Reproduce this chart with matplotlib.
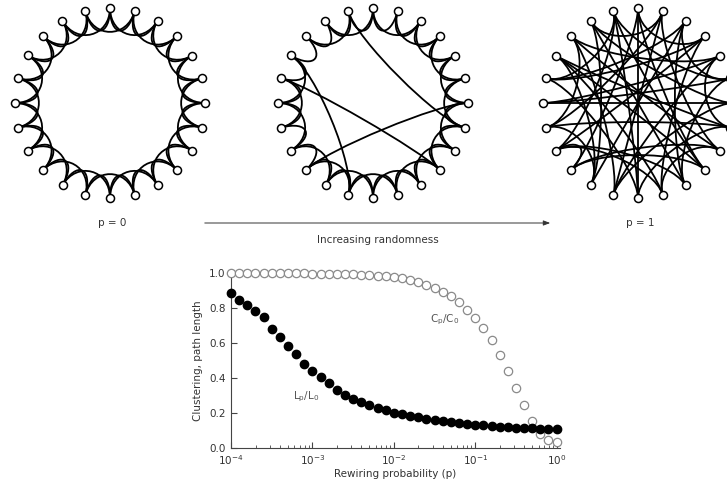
import numpy as np
import matplotlib
matplotlib.use("Agg")
import matplotlib.pyplot as plt
from matplotlib.path import Path
from matplotlib.patches import PathPatch, FancyArrowPatch

# ring networks: 24 nodes, each joined to its 2 nearest neighbours on each side
N_NODES = 24
K_HALF = 2

# small p -> a few lattice edges rewired into long-range shortcuts
REWIRED_REMOVED = [(23, 1), (20, 22), (19, 21), (15, 17)]
REWIRED_ADDED = [(23, 7), (20, 13), (19, 9), (15, 6)]

# p = 1 -> every edge random
RANDOM_EDGES = [
    (0, 12), (0, 15), (0, 9), (0, 3),
    (1, 13), (1, 8), (1, 17), (1, 22),
    (2, 14), (2, 10), (2, 19),
    (3, 16), (3, 11), (3, 19),
    (4, 18), (4, 13), (4, 21),
    (5, 18), (5, 23), (5, 10),
    (6, 18), (6, 13), (6, 22),
    (7, 17), (7, 20), (7, 12),
    (8, 21), (8, 15),
    (9, 20), (9, 23), (9, 15),
    (10, 22), (10, 16),
    (11, 20), (11, 16),
    (12, 19), (12, 23),
    (13, 21), (14, 17),
    (14, 22), (14, 20),
    (15, 16), (16, 23), (17, 21), (19, 23),
    (2, 5), (8, 11), (4, 7),
]

RING_LABELS = ["p = 0", "p = 1"]
ARROW_LABEL = "Increasing randomness"

# bottom panel: rewiring probability, 10 points per decade
log_p = np.arange(-4.0, 0.01, 0.1)
p_values = 10 ** log_p
clustering = [
    1.0, 1.0, 1.0, 1.0, 1.0, 1.0, 0.999, 0.999, 0.998, 0.998,
    0.997, 0.997, 0.996, 0.995, 0.994, 0.992, 0.990, 0.989, 0.985, 0.981,
    0.977, 0.970, 0.962, 0.949, 0.933, 0.914, 0.890, 0.867, 0.832, 0.790,
    0.741, 0.686, 0.615, 0.531, 0.440, 0.345, 0.246, 0.152, 0.082, 0.044,
    0.036,
]
path_length = [
    0.886, 0.844, 0.815, 0.781, 0.747, 0.682, 0.636, 0.581, 0.537, 0.480,
    0.442, 0.404, 0.371, 0.330, 0.305, 0.282, 0.261, 0.244, 0.230, 0.215,
    0.200, 0.192, 0.185, 0.175, 0.168, 0.160, 0.152, 0.147, 0.143, 0.137,
    0.133, 0.130, 0.126, 0.122, 0.120, 0.116, 0.114, 0.112, 0.110, 0.110,
    0.108,
]

W, H = 727, 482
TXT = "#333333"


def lattice_edges():
    return [(i, (i + d) % N_NODES) for i in range(N_NODES) for d in range(1, K_HALF + 1)]


def draw_ring(fig, cx, cy, edges, r_px=95):
    size = 2.3 * r_px
    ax = fig.add_axes([(cx - size / 2) / W, (H - cy - size / 2) / H, size / W, size / H])
    ax.set_xlim(-1.15, 1.15)
    ax.set_ylim(-1.15, 1.15)
    ax.set_aspect("equal")
    ax.axis("off")
    ang = np.deg2rad(90 - 360.0 / N_NODES * np.arange(N_NODES))
    xs, ys = np.cos(ang), np.sin(ang)
    for a, b in edges:
        p0 = np.array([xs[a], ys[a]])
        p3 = np.array([xs[b], ys[b]])
        # leave each node heading toward the centre, so the ring gets its crowns
        c1, c2 = 0.7 * p0, 0.7 * p3
        path = Path([p0, c1, c2, p3], [Path.MOVETO, Path.CURVE4, Path.CURVE4, Path.CURVE4])
        ax.add_patch(PathPatch(path, fc="none", ec="black", lw=1.3, zorder=1))
    ax.plot(xs, ys, "o", ms=5.8, mfc="white", mec="black", mew=1.1, zorder=3, clip_on=False)
    return ax


fig = plt.figure(figsize=(W / 100, H / 100), dpi=100)
plt.rcParams["font.family"] = "DejaVu Sans"

base = lattice_edges()
small_world = [e for e in base if e not in REWIRED_REMOVED] + REWIRED_ADDED

draw_ring(fig, 110, 103, base)
draw_ring(fig, 373, 103, small_world)
draw_ring(fig, 638, 103, RANDOM_EDGES)

fig.text(112 / W, 1 - 223 / H, RING_LABELS[0], ha="center", va="center", fontsize=7.5, color=TXT)
fig.text(640 / W, 1 - 223 / H, RING_LABELS[1], ha="center", va="center", fontsize=7.5, color=TXT)
fig.text(378 / W, 1 - 240 / H, ARROW_LABEL, ha="center", va="center", fontsize=7.5, color=TXT)
fig.patches.append(FancyArrowPatch(
    (202 / W, 1 - 223 / H), (553 / W, 1 - 223 / H), transform=fig.transFigure,
    arrowstyle="-|>,head_length=4,head_width=1.5", lw=0.7, color="#333333", figure=fig))

# bottom panel
ax = fig.add_axes([231 / W, (H - 448) / H, (560 - 231) / W, (448 - 273) / H])
ax.set_xscale("log")
ax.plot(p_values, clustering, "o", ms=6, mfc="white", mec="#8a8a8a", mew=0.9, clip_on=False, zorder=3)
ax.plot(p_values, path_length, "o", ms=6, mfc="black", mec="black", clip_on=False, zorder=3)
ax.set_xlim(1e-4, 1.1)
ax.set_ylim(0, 1.0)
ax.set_yticks([0.0, 0.2, 0.4, 0.6, 0.8, 1.0])
ax.set_xticks([1e-4, 1e-3, 1e-2, 1e-1, 1e0])
ax.spines["top"].set_visible(False)
ax.spines["right"].set_visible(False)
for s in ("left", "bottom"):
    ax.spines[s].set_color("#444444")
    ax.spines[s].set_linewidth(0.8)
ax.tick_params(which="both", direction="in", colors="#444444", labelcolor=TXT, labelsize=7.5)
ax.tick_params(axis="y", pad=4)
ax.tick_params(axis="x", which="both", pad=4)
ax.tick_params(which="major", length=4)
ax.tick_params(which="minor", length=2)
ax.set_xlabel("Rewiring probability (p)", fontsize=7.5, color=TXT, labelpad=1)
ax.set_ylabel("Clustering, path length", fontsize=7.5, color=TXT, labelpad=4)
ax.text(10 ** -1.37, 0.733, r"C$_\mathrm{p}$/C$_0$", fontsize=7.5, color="#555555", ha="center", va="center")
ax.text(10 ** -3.08, 0.29, r"L$_\mathrm{p}$/L$_0$", fontsize=7.5, color="#555555", ha="center", va="center")

fig.savefig("out.png", dpi=100)
